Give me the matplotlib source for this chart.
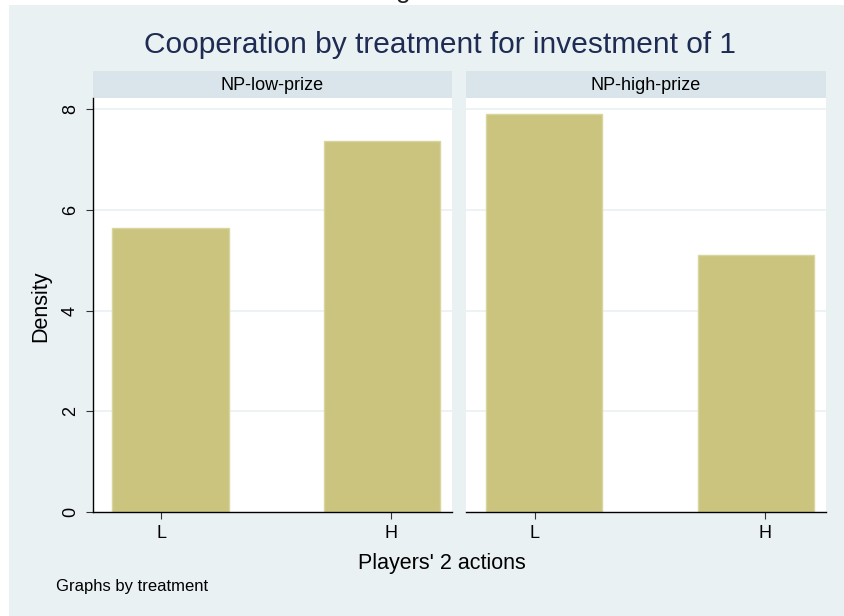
import numpy as np
import matplotlib
matplotlib.use("Agg")
import matplotlib.pyplot as plt
from matplotlib.patches import Rectangle

plt.rcParams['font.family'] = ['Liberation Sans', 'DejaVu Sans']

# data
treatments = ['NP-low-prize', 'NP-high-prize']
actions = ['L', 'H']
low_prize_density = [5.63, 7.37]
high_prize_density = [7.90, 5.11]
y_ticks = [0, 2, 4, 6, 8]

W, H = 844, 616
bg = '#EAF1F3'
strip = '#D9E5EA'
bar_face = '#CBC47F'
bar_edge = '#D9D59E'
navy = '#1E2B53'

fig = plt.figure(figsize=(W / 100, H / 100), dpi=100, facecolor='white')

def box(x0, y0, x1, y1):
    # pixel box (top-left origin) -> figure fraction rect
    return [x0 / W, 1 - y1 / H, (x1 - x0) / W, (y1 - y0) / H]

fig.patches.append(Rectangle((9 / W, 0), 1 - 9 / W, 1 - 5 / H,
                             transform=fig.transFigure, facecolor=bg,
                             edgecolor='none', zorder=-10))

# clipped descender showing at the very top of the original
fig.text(403 / W, 1 + 2 / H, 'g', ha='center', va='baseline', fontsize=19, color='#222222')

fig.text(440 / W, 1 - 45 / H, 'Cooperation by treatment for investment of 1',
         ha='center', va='center', fontsize=21.5, color=navy)

panels = [(92.7, 451.7), (466, 825.7)]
series = [low_prize_density, high_prize_density]
x = np.arange(len(actions))
centers = x + np.array([0.04, -0.04])

for i, ((x0, x1), name, vals) in enumerate(zip(panels, treatments, series)):
    hd = fig.add_axes(box(x0, 71, x1, 98))
    hd.set_facecolor(strip)
    hd.set_xticks([])
    hd.set_yticks([])
    for s in hd.spines.values():
        s.set_visible(False)
    hd.text(0.5, 0.45, name, ha='center', va='center', fontsize=13,
            color='black', transform=hd.transAxes)

    ax = fig.add_axes(box(x0, 98, x1, 512))
    ax.set_facecolor('white')
    ax.bar(centers, vals, width=0.505, color=bar_face, edgecolor=bar_edge,
           linewidth=1, zorder=2)
    ax.set_xlim(-0.298, 1.263)
    ax.set_ylim(0, 8.22)
    for yv in y_ticks[1:]:
        ax.axhline(yv, color=bg, linewidth=1.2, zorder=1)
    ax.set_xticks(x)
    ax.set_xticklabels(actions, fontsize=13)
    ax.tick_params(axis='x', length=5, width=0.8, color='#333333', pad=4)
    for s in ['top', 'right']:
        ax.spines[s].set_visible(False)
    ax.spines['bottom'].set_color('black')
    ax.spines['bottom'].set_linewidth(1)
    if i == 0:
        ax.set_yticks(y_ticks)
        ax.set_yticklabels([str(v) for v in y_ticks], rotation=90,
                           va='center', fontsize=13)
        ax.tick_params(axis='y', length=5, width=0.8, color='#333333', pad=5)
        ax.spines['left'].set_color('black')
        ax.spines['left'].set_linewidth(1)
    else:
        ax.set_yticks([])
        ax.spines['left'].set_visible(False)

fig.text(41 / W, 1 - 306 / H, 'Density', rotation=90, ha='center', va='center',
         fontsize=15.5)
fig.text(442 / W, 1 - 564 / H, "Players' 2 actions", ha='center', va='center',
         fontsize=15.5)
fig.text(56 / W, 1 - 586 / H, 'Graphs by treatment', ha='left', va='center',
         fontsize=12)

fig.savefig('out.png', dpi=100, facecolor=fig.get_facecolor())
